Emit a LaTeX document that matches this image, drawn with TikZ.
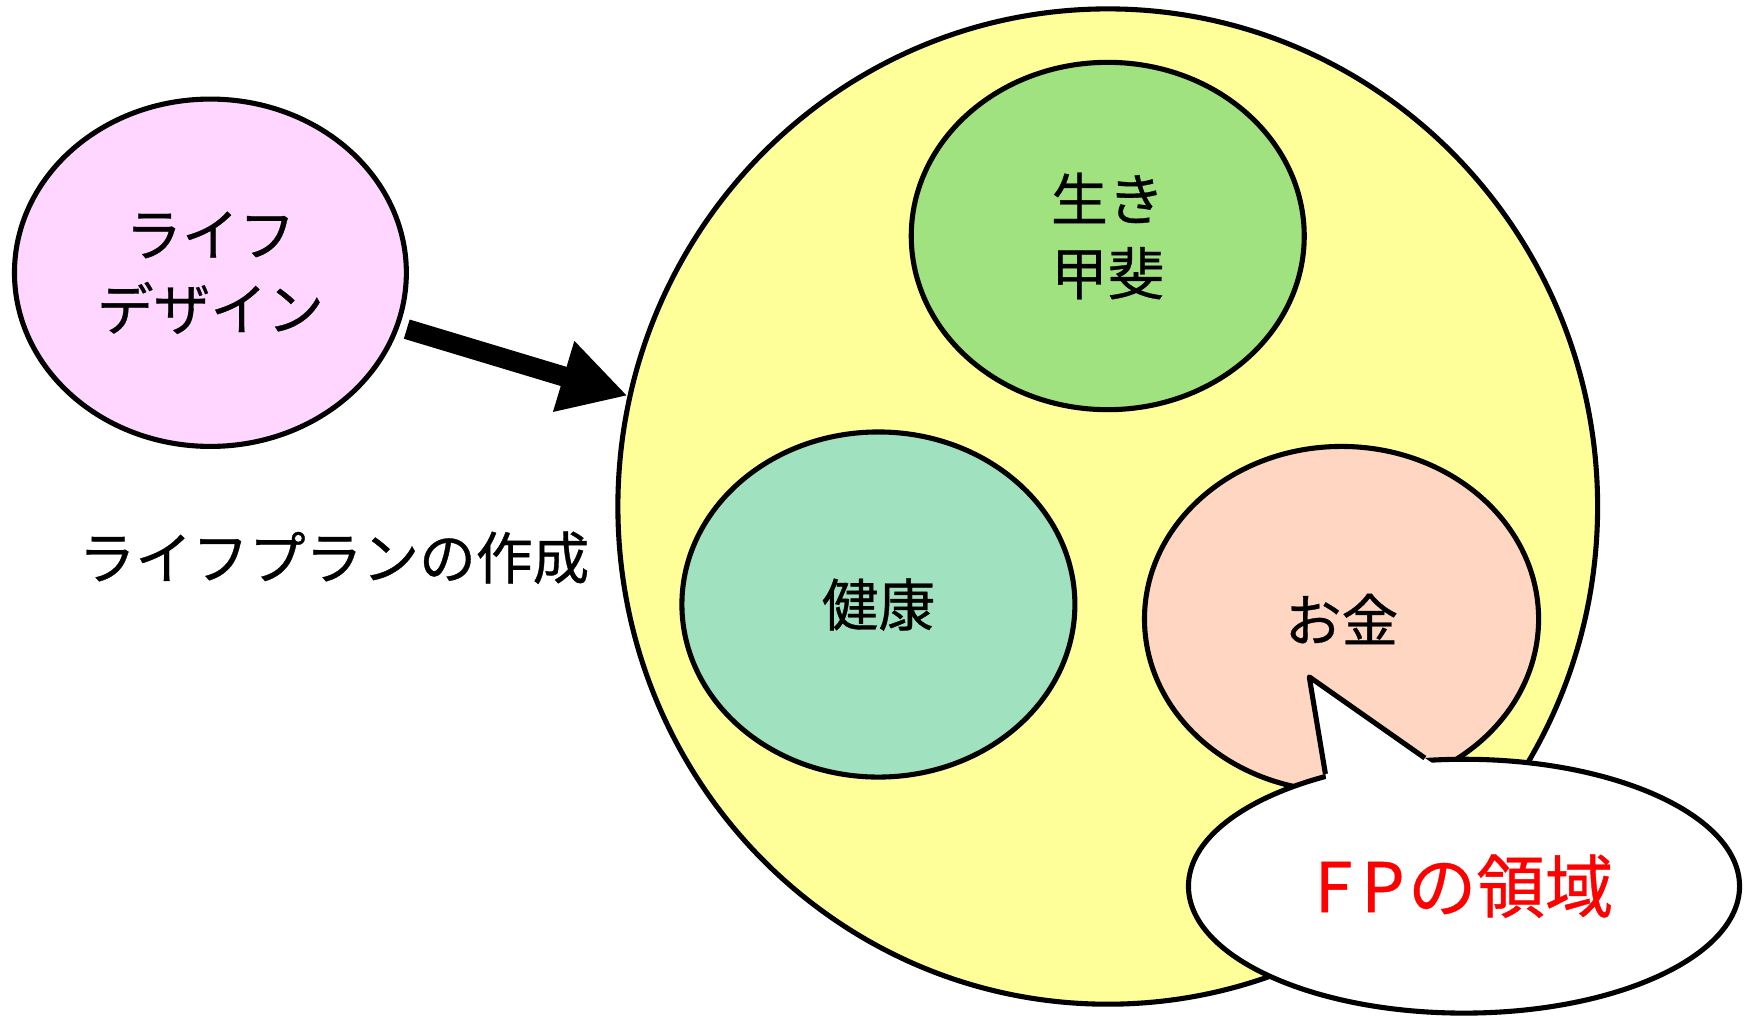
\documentclass[tikz,border=0pt]{standalone}
\usepackage{fontspec}
\newfontfamily\jp[FakeBold=0.6]{Noto Sans CJK JP}
\usetikzlibrary{arrows.meta,calc,shapes.geometric}
\definecolor{rose}{RGB}{255,214,255}
\definecolor{lemon}{RGB}{255,255,153}
\definecolor{leaf}{RGB}{160,225,128}
\definecolor{mint}{RGB}{160,225,192}
\definecolor{peach}{RGB}{255,214,193}
\begin{document}
\begin{tikzpicture}[font=\jp\fontsize{14.5}{19}\selectfont,
	bubble/.style={ellipse, draw, line width=1.3pt, inner sep=0pt, align=center},
	bigarrow/.style={line width=0.18cm, -{Triangle[length=0.6cm,width=0.62cm]}}]
	\useasboundingbox (0, 0) rectangle (15.71, -9.19);

	\node[bubble, fill=rose, minimum width=3.52cm, minimum height=3.12cm] (design) at (1.89, -2.45) {ライフ\\デザイン};
	\node[bubble, fill=lemon, minimum width=8.80cm, minimum height=8.94cm] (plan) at (9.95, -4.55) {};
	\node[bubble, fill=leaf, minimum width=3.53cm, minimum height=3.12cm] (purpose) at (9.95, -2.12) {生き\\甲斐};
	\node[bubble, fill=mint, minimum width=3.53cm, minimum height=3.10cm] (health) at (7.89, -5.43) {健康};
	\node[bubble, fill=peach, minimum width=3.54cm, minimum height=3.10cm] (money) at (12.05, -5.56) {お金};

	\node (plantext) at (3.00, -5.01) {ライフプランの作成};
	\draw[bigarrow, shorten <=0.07cm] (design.-16) -- (plan.167);

	% FPの吹き出し
	\node[bubble, fill=white, minimum width=4.95cm, minimum height=2.28cm, text=red, font=\jp\fontsize{17.5}{20}\selectfont] (fp) at (13.15, -7.96) {F\kern0.08cm P\kern0.03cm の領域};
	\coordinate (tip) at (11.76, -6.08);
	\fill[white] (tip) -- ($(tip)!1.15!(fp.141)$) -- ($(tip)!1.15!(fp.107)$) -- cycle;
	\draw[line width=1.3pt, line join=round] (fp.141) -- (tip) -- (fp.107);
\end{tikzpicture}
\end{document}
